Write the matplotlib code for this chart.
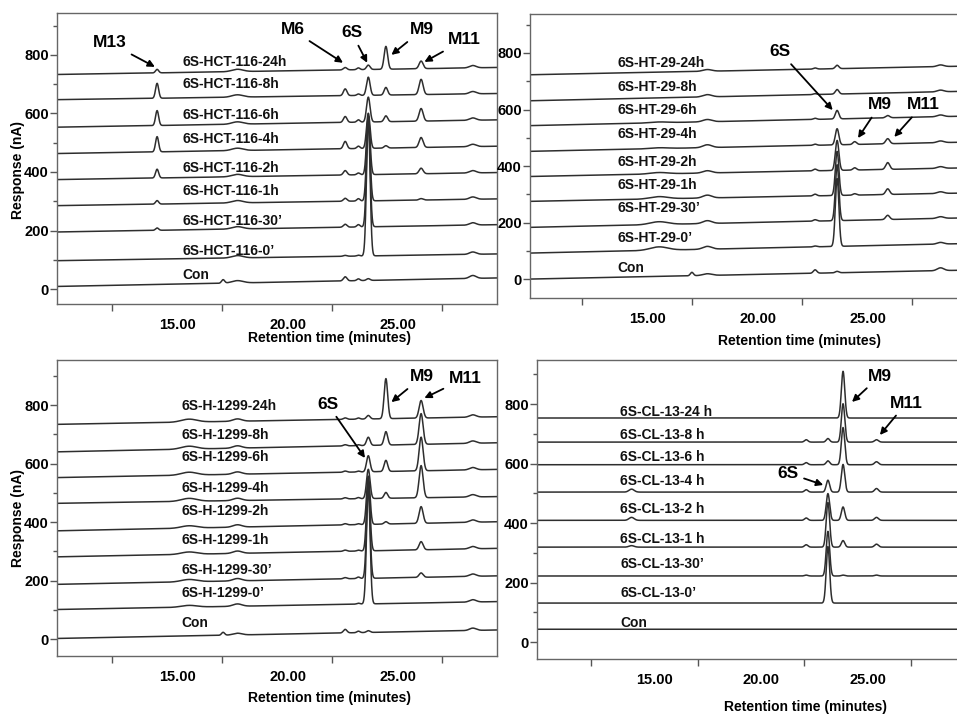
import numpy as np
import matplotlib
matplotlib.use("Agg")
import matplotlib.pyplot as plt
from matplotlib.ticker import FixedLocator

plt.rcParams['font.family'] = ['Liberation Sans', 'DejaVu Sans']
plt.rcParams['font.weight'] = 'bold'

# ================= Panel A : HCT-116 =================
hct_labels = ["6S-HCT-116-24h", "6S-HCT-116-8h", "6S-HCT-116-6h", "6S-HCT-116-4h",
              "6S-HCT-116-2h", "6S-HCT-116-1h", "6S-HCT-116-30\u2019", "6S-HCT-116-0\u2019", "Con"]
hct_base_start = [733, 647, 553, 463, 374, 285, 195, 97, 9]
hct_base_end = [757, 668, 578, 488, 398, 308, 220, 120, 38]
hct_label_y = [775, 699, 596, 513, 414, 334, 231, 129, 49]
hct_rt = [14.05, 17.05, 17.7, 22.6, 23.2, 23.65, 24.45, 26.05, 28.4]
hct_sigma = [0.07, 0.07, 0.25, 0.08, 0.07, 0.08, 0.08, 0.09, 0.15]
hct_M13 = [12, 51, 51, 52, 30, 12, 8, 0, 0]
hct_p17 = [0, 0, 0, 0, 0, 0, 0, 0, 12]
hct_b18 = [8, 8, 8, 8, 8, 8, 8, 8, 8]
hct_M6 = [8, 23, 20, 25, 15, 10, 10, 3, 14]
hct_p23 = [6, 5, 8, 8, 6, 8, 8, 3, 6]
hct_6S = [15, 62, 85, 120, 200, 290, 376, 468, 6]
hct_M9 = [78, 26, 20, 8, 0, 0, 0, 0, 0]
hct_M11 = [26, 52, 43, 34, 19, 5, 0, 0, 0]
hct_end = [8, 8, 8, 8, 8, 8, 8, 8, 10]

# ================= Panel B : HT-29 =================
ht_labels = ["6S-HT-29-24h", "6S-HT-29-8h", "6S-HT-29-6h", "6S-HT-29-4h",
             "6S-HT-29-2h", "6S-HT-29-1h", "6S-HT-29-30\u2019", "6S-HT-29-0\u2019", "Con"]
ht_base_start = [723, 631, 543, 452, 363, 275, 183, 92, 0]
ht_base_end = [753, 664, 576, 484, 393, 304, 216, 125, 31]
ht_label_y = [765, 680, 597, 514, 413, 334, 251, 145, 39]
ht_rt = [15.5, 17.0, 17.7, 22.6, 23.6, 24.4, 25.9, 28.3]
ht_sigma = [0.4, 0.07, 0.2, 0.08, 0.08, 0.08, 0.09, 0.15]
ht_hump = [0, 0, 3, 3, 5, 8, 10, 12, 0]
ht_p17 = [0, 0, 0, 0, 0, 0, 0, 0, 12]
ht_b18 = [6, 8, 8, 10, 8, 10, 10, 10, 6]
ht_p23 = [4, 3, 4, 4, 6, 6, 5, 3, 12]
ht_6S = [12, 16, 30, 57, 106, 156, 198, 240, 5]
ht_M9 = [0, 0, 0, 10, 8, 5, 0, 0, 0]
ht_M11 = [0, 0, 8, 18, 24, 20, 15, 0, 0]
ht_end = [6, 6, 6, 6, 6, 6, 6, 6, 10]

# ================= Panel C : H-1299 =================
h_labels = ["6S-H-1299-24h", "6S-H-1299-8h", "6S-H-1299-6h", "6S-H-1299-4h",
            "6S-H-1299-2h", "6S-H-1299-1h", "6S-H-1299-30\u2019", "6S-H-1299-0\u2019", "Con"]
h_base_start = [734, 640, 552, 464, 370, 281, 187, 101, 2]
h_base_end = [760, 671, 580, 487, 401, 310, 216, 128, 31]
h_label_y = [798, 697, 623, 515, 438, 338, 236, 156, 54]
h_rt = [15.5, 17.05, 17.7, 22.6, 23.2, 23.65, 24.45, 26.05, 28.4]
h_sigma = [0.35, 0.07, 0.2, 0.08, 0.07, 0.08, 0.08, 0.09, 0.15]
h_hump = [10, 10, 10, 10, 8, 8, 8, 6, 0]
h_p17 = [0, 0, 0, 0, 0, 0, 0, 0, 10]
h_b18 = [8, 8, 8, 8, 8, 8, 8, 8, 6]
h_p23 = [5, 4, 4, 4, 4, 4, 4, 0, 12]
h_p23b = [4, 3, 3, 4, 3, 3, 5, 3, 5]
h_6S = [12, 28, 55, 100, 165, 240, 315, 400, 6]
h_M9 = [137, 46, 38, 20, 8, 0, 0, 0, 0]
h_M11 = [60, 105, 115, 110, 57, 28, 15, 0, 0]
h_end = [8, 8, 8, 8, 8, 8, 8, 8, 8]

# ================= Panel D : CL-13 =================
cl_labels = ["6S-CL-13-24 h", "6S-CL-13-8 h", "6S-CL-13-6 h", "6S-CL-13-4 h",
             "6S-CL-13-2 h", "6S-CL-13-1 h", "6S-CL-13-30\u2019", "6S-CL-13-0\u2019", "Con"]
cl_base_start = [753, 672, 596, 504, 409, 319, 222, 131, 43]
cl_base_end = [753, 672, 596, 504, 409, 319, 222, 131, 43]
cl_label_y = [773, 697, 622, 540, 446, 345, 263, 166, 64]
cl_rt = [13.9, 22.1, 23.12, 23.83, 25.4]
cl_sigma = [0.12, 0.08, 0.08, 0.08, 0.09]
cl_p14 = [0, 0, 0, 10, 10, 5, 0, 0, 0]
cl_p22 = [0, 8, 7, 8, 8, 8, 3, 0, 0]
cl_6S = [0, 12, 13, 40, 90, 150, 150, 190, 0]
cl_M9 = [157, 129, 125, 93, 45, 22, 3, 0, 0]
cl_M11 = [0, 8, 10, 12, 10, 10, 3, 0, 0]

LINE = '#2e2e2e'


def draw_panel(ax, xlim, ylim, labels, b0, b1, label_x, label_y, rts, sigmas, peak_lists):
    x = np.linspace(xlim[0], xlim[1], 3000)
    heights = np.array(peak_lists).T  # traces x peaks
    for i in range(len(labels)):
        y = b0[i] + (b1[i] - b0[i]) * (x - xlim[0]) / (xlim[1] - xlim[0])
        for rt, s, h in zip(rts, sigmas, heights[i]):
            if h:
                y = y + h * np.exp(-0.5 * ((x - rt) / s) ** 2)
        ax.plot(x, y, color=LINE, lw=1.1)
        ax.text(label_x, label_y[i], labels[i], fontsize=10, fontweight='bold',
                ha='left', va='center', color='#111111')
    ax.set_xlim(*xlim)
    ax.set_ylim(*ylim)
    ax.set_xticks([15, 20, 25])
    ax.set_xticklabels(['15.00', '20.00', '25.00'])
    ax.xaxis.set_minor_locator(FixedLocator([12, 17, 22, 27]))
    ax.set_yticks([0, 200, 400, 600, 800])
    ax.yaxis.set_minor_locator(FixedLocator([100, 300, 500, 700, 900]))
    ax.tick_params(axis='x', which='major', length=0, pad=10, labelsize=10.5)
    ax.tick_params(axis='x', which='minor', length=5, width=1, color='#555555')
    ax.tick_params(axis='y', which='major', length=5, width=1, pad=1, labelsize=10.5, color='#555555')
    ax.tick_params(axis='y', which='minor', length=3, width=1, color='#555555')
    for lab in ax.get_xticklabels() + ax.get_yticklabels():
        lab.set_fontweight('bold')
    for sp in ax.spines.values():
        sp.set_color('#666666')
        sp.set_linewidth(1.0)


def arrow(ax, text, xytext, xy):
    ax.annotate(text, xy=xy, xytext=xytext, fontsize=12.5, fontweight='bold',
                ha='center', va='center', annotation_clip=False,
                arrowprops=dict(arrowstyle='-|>', color='black', lw=1.3,
                                mutation_scale=10, shrinkA=2, shrinkB=0))


W, H = 957, 715
fig = plt.figure(figsize=(W / 100, H / 100), dpi=100)


def box(l, r, t, b):
    return [l / W, 1 - b / H, (r - l) / W, (b - t) / H]


ax1 = fig.add_axes(box(57, 497, 13, 304))
ax2 = fig.add_axes(box(530, 957, 14, 298))
ax3 = fig.add_axes(box(57, 497, 360, 656))
ax4 = fig.add_axes(box(537, 957, 360, 659))

draw_panel(ax1, (9.5, 29.5), (-51, 943), hct_labels, hct_base_start, hct_base_end, 15.2, hct_label_y,
           hct_rt, hct_sigma, [hct_M13, hct_p17, hct_b18, hct_M6, hct_p23, hct_6S, hct_M9, hct_M11, hct_end])
draw_panel(ax2, (9.64, 29.05), (-67, 938), ht_labels, ht_base_start, ht_base_end, 13.6, ht_label_y,
           ht_rt, ht_sigma, [ht_hump, ht_p17, ht_b18, ht_p23, ht_6S, ht_M9, ht_M11, ht_end])
draw_panel(ax3, (9.5, 29.5), (-58, 954), h_labels, h_base_start, h_base_end, 15.14, h_label_y,
           h_rt, h_sigma, [h_hump, h_p17, h_b18, h_p23, h_p23b, h_6S, h_M9, h_M11, h_end])
draw_panel(ax4, (9.46, 29.18), (-57, 948), cl_labels, cl_base_start, cl_base_end, 13.36, cl_label_y,
           cl_rt, cl_sigma, [cl_p14, cl_p22, cl_6S, cl_M9, cl_M11])

ax2.spines['right'].set_visible(False)
ax4.spines['right'].set_visible(False)

# annotations
arrow(ax1, 'M13', (11.9, 841), (13.95, 759))
arrow(ax1, 'M6', (20.2, 885), (22.5, 773))
arrow(ax1, '6S', (22.9, 875), (23.6, 773))
arrow(ax1, 'M9', (26.1, 885), (24.7, 800))
arrow(ax1, 'M11', (28.0, 851), (26.2, 776))

arrow(ax2, '6S', (21.0, 804), (23.4, 598))
arrow(ax2, 'M9', (25.55, 616), (24.55, 499))
arrow(ax2, 'M11', (27.5, 616), (26.2, 503))

arrow(ax3, '6S', (21.8, 803), (23.5, 619))
arrow(ax3, 'M9', (26.1, 896), (24.7, 810))
arrow(ax3, 'M11', (28.05, 892), (26.2, 824))

arrow(ax4, 'M9', (25.56, 894), (24.25, 807))
arrow(ax4, 'M11', (26.8, 803), (25.56, 696))
arrow(ax4, '6S', (21.25, 568), (22.9, 528))

# axis titles
fig.text(18 / W, 1 - 170 / H, 'Response (nA)', rotation=90, ha='center', va='center', fontsize=10, fontweight='bold')
fig.text(18 / W, 1 - 518 / H, 'Response (nA)', rotation=90, ha='center', va='center', fontsize=10, fontweight='bold')
fig.text(330 / W, 1 - 338 / H, 'Retention time (minutes)', ha='center', va='center', fontsize=10, fontweight='bold')
fig.text(800 / W, 1 - 341 / H, 'Retention time (minutes)', ha='center', va='center', fontsize=10, fontweight='bold')
fig.text(330 / W, 1 - 698 / H, 'Retention time (minutes)', ha='center', va='center', fontsize=10, fontweight='bold')
fig.text(805 / W, 1 - 707 / H, 'Retention time (minutes)', ha='center', va='center', fontsize=10, fontweight='bold')

fig.savefig('out.png', dpi=100)
